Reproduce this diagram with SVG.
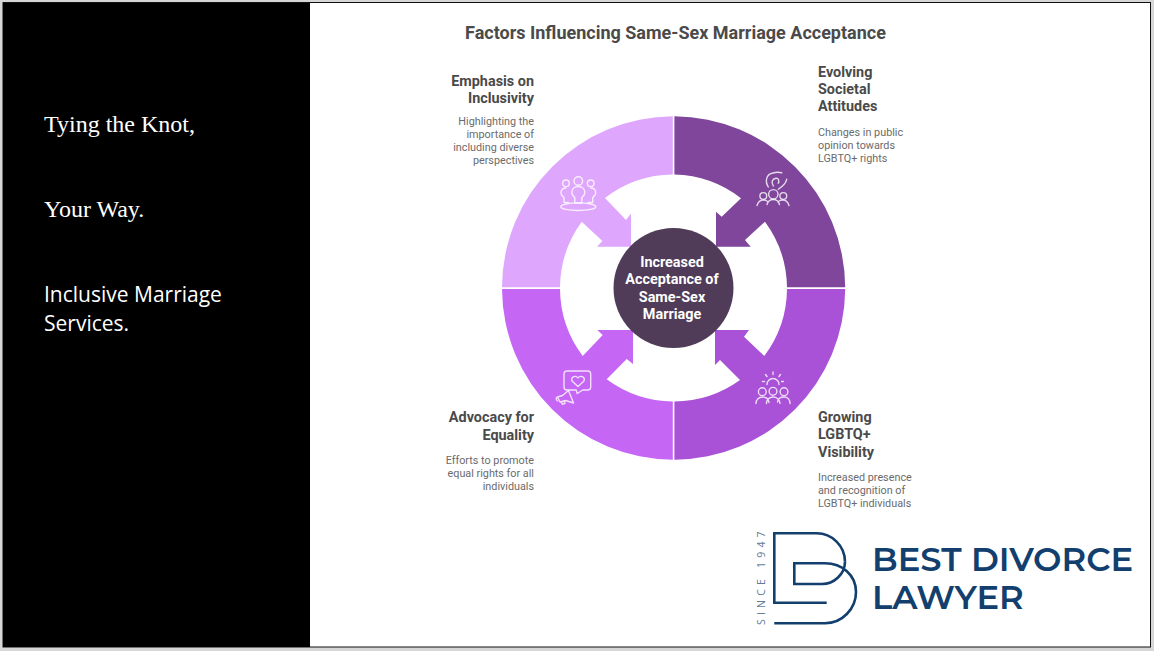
<svg xmlns="http://www.w3.org/2000/svg" width="1154" height="651" viewBox="0 0 1154 651">
<style>
.t{font-family:Roboto,"Liberation Sans",sans-serif;font-weight:700;font-size:14.4px;fill:#4a4a4a}
.d{font-family:Roboto,"Liberation Sans",sans-serif;font-size:10.8px;fill:#6b6b6b}
.e{text-anchor:end}
.c{font-family:Roboto,"Liberation Sans",sans-serif;font-weight:700;font-size:14.4px;fill:#fff;text-anchor:middle}
.i{fill:none;stroke:#fff;stroke-opacity:.8;stroke-width:1.4;stroke-linecap:round;stroke-linejoin:round}
.l{fill:none;stroke:#123f6d;stroke-width:2.6}
.n{font-family:Montserrat,"Open Sans","Liberation Sans",sans-serif;font-weight:600;fill:#123f6d;font-size:33.8px}
</style>
<rect width="1154" height="651" fill="#d6d6d6"/>
<rect x="3" y="2.500" width="1147.500" height="644.500" fill="#fff" stroke="#111" stroke-width="1"/>
<rect id="sidebar" x="3" y="3" width="307" height="644" fill="#000"/>
<g id="side-text" fill="#fff">
<text x="44" y="132" font-family="Liberation Serif,serif" font-size="24">Tying the Knot,</text>
<text x="44" y="217" font-family="Liberation Serif,serif" font-size="24">Your Way.</text>
<text x="44" y="302" font-family="Open Sans,sans-serif" font-size="21">Inclusive Marriage</text>
<text x="44" y="331" font-family="Open Sans,sans-serif" font-size="21">Services.</text>
</g>
<text id="title" x="675.500" y="38.500" text-anchor="middle" font-family="Roboto,Liberation Sans,sans-serif" font-weight="700" font-size="18" fill="#4a4a4a">Factors Influencing Same-Sex Marriage Acceptance</text>
<g id="connectors">
<path id="seg-tl" fill="#dfa6fe" d="M502 287.300A171.700 171.700 0 0 1 672.800 116.300V174.600A113.500 113.500 0 0 0 605 198L626 220L631 213.500V246.700H597L602.400 241L581.700 221.700A113.500 113.500 0 0 0 560 287.300Z"/>
<path id="seg-tr" fill="#7f469c" d="M674.400 116.300A171.700 171.700 0 0 1 845.200 287.300H787A113.500 113.500 0 0 0 765 221.700L745 240L750.700 246.700H716V211.700L721.700 216.700L741 198.300A113.500 113.500 0 0 0 674.400 174.600Z"/>
<path id="seg-bl" fill="#c566f5" d="M502 289A171.700 171.700 0 0 0 672.800 459.700V401.500A113.500 113.500 0 0 1 606.700 379.300L626.700 359L633 364V330H597.300L602.700 335L582.700 356A113.500 113.500 0 0 1 560 289Z"/>
<path id="seg-br" fill="#a951d7" d="M845.200 289A171.700 171.700 0 0 1 674.400 459.700V401.500A113.500 113.500 0 0 0 740 380L720 360L715 365V330H749L744 336.700L764.300 356A113.500 113.500 0 0 0 787 289Z"/>
</g>
<g id="center">
<circle cx="673.500" cy="288" r="60" fill="#503c58"/>
<text class="c" x="672" y="267">Increased</text>
<text class="c" x="672" y="284">Acceptance of</text>
<text class="c" x="672" y="302">Same-Sex</text>
<text class="c" x="672" y="319">Marriage</text>
</g>
<g id="node-inclusivity">
<text class="t e" x="534" y="86">Emphasis on</text>
<text class="t e" x="534" y="103">Inclusivity</text>
<text class="d e" x="534" y="125">Highlighting the</text>
<text class="d e" x="534" y="138">importance of</text>
<text class="d e" x="534" y="151">including diverse</text>
<text class="d e" x="534" y="164">perspectives</text>
<g class="i"><circle cx="566" cy="183.300" r="3.300"/><circle cx="578.300" cy="181" r="4.300"/><circle cx="590.700" cy="183.300" r="3.300"/>
<path d="M566 188c-3.500 0-5 2.500-5 5 0 3 3 3.500 3 5v4.500h4.500"/>
<path d="M578.300 186.500c-4.500 0-6.500 3-6.500 6 0 3.500 3 4 3 5.500v5h7v-5c0-1.500 3-2 3-5.500 0-3-2-6-6.500-6z"/>
<path d="M590.700 188c3.500 0 5 2.500 5 5 0 3-3 3.500-3 5v4.500h-4.500"/>
<ellipse cx="578.300" cy="206.700" rx="17.500" ry="3.800"/></g>
</g>
<g id="node-attitudes">
<text class="t" x="818" y="77">Evolving</text>
<text class="t" x="818" y="94">Societal</text>
<text class="t" x="818" y="111">Attitudes</text>
<text class="d" x="818" y="136">Changes in public</text>
<text class="d" x="818" y="149">opinion towards</text>
<text class="d" x="818" y="162">LGBTQ+ rights</text>
<g class="i"><path d="M768.300 187C764.500 181 766.500 174 773 173C776 172 779 172 781.700 172.700"/>
<path d="M773.300 186C771 182 772 179 776 178.300C778.500 178 779.500 181 778.300 183.300"/>
<path d="M786.700 179.300C786 183 783 186 778.300 189.300"/>
<circle cx="773.300" cy="194.300" r="4.700"/><circle cx="763.300" cy="196" r="3.400"/><circle cx="783.300" cy="196" r="3.400"/>
<path d="M757 205.500c1-3.500 3.500-5.500 6.500-5.500s3.500 1 4.500 2M789 205.500c-1-3.500-3.500-5.500-6.500-5.500s-3.500 1-4.500 2M767 204.500c1-3.500 3-5 6.300-5s5.200 1.500 6.200 5"/></g>
</g>
<g id="node-advocacy">
<text class="t e" x="534" y="422">Advocacy for</text>
<text class="t e" x="534" y="440">Equality</text>
<text class="d e" x="534" y="464">Efforts to promote</text>
<text class="d e" x="534" y="477">equal rights for all</text>
<text class="d e" x="534" y="490">individuals</text>
<g class="i"><path d="M567 371h20.700q3 0 3 3v13q0 3-3 3h-5l-5.500 3.500-1-3.500h-9.200q-3 0-3-3v-13q0-3 3-3z"/>
<path d="M578 386.500l-5.500-5c-3-3.500 3-7.500 5.500-3.500 2.500-4 8.500 0 5.500 3.500z"/>
<path d="M568.500 390.500l-6 5-5 1.500 2.500 5 5.500-1.500 8 2.500zM557.500 397c-2 .5-1.500 3 0 4M561 401.500l1.500 2.800 2.500-1-1-2.500"/></g>
</g>
<g id="node-visibility">
<text class="t" x="818" y="422">Growing</text>
<text class="t" x="818" y="439">LGBTQ+</text>
<text class="t" x="818" y="457">Visibility</text>
<text class="d" x="818" y="481">Increased presence</text>
<text class="d" x="818" y="494">and recognition of</text>
<text class="d" x="818" y="507">LGBTQ+ individuals</text>
<g class="i"><path d="M767 384.500a6 6 0 0 1 12 0M773 372v2.500M765.500 374.500l1.500 2M780.500 374.500l-1.500 2M762.500 381.500h2M781.500 381.500h2"/>
<circle cx="762.300" cy="391.700" r="3.900"/><circle cx="773" cy="391.300" r="3.900"/><circle cx="784" cy="391.700" r="3.900"/>
<path d="M756 403.500c0-4 3-6.500 6.500-6.500s6 2 6.500 5.500M766.500 403.500c0-4 3-6.500 6.500-6.500s6.500 2.500 7 6.500M777.500 402c.5-3.500 3-5 6.500-5s6 2.500 6 6.500"/></g>
</g>
<g id="logo">
<path class="l" d="M826.700 602.700H774.300V533.300H816.700C832 533.300 845 546 845 561.700"/>
<path class="l" d="M774.300 623.300H825C842 623.300 856 609 856 592C856 575 842 563.300 825 563.300H794.300V584H822C834 584 845 574 845 561.700"/>
<text x="765" y="625" transform="rotate(-90 765 625)" font-family="Open Sans,sans-serif" font-size="10.500" letter-spacing="4.200" fill="#5f7c98">SINCE 1947</text>
<text class="n" x="872" y="570.500">BEST DIVORCE</text>
<text class="n" x="872" y="609">LAWYER</text>
</g>
</svg>
